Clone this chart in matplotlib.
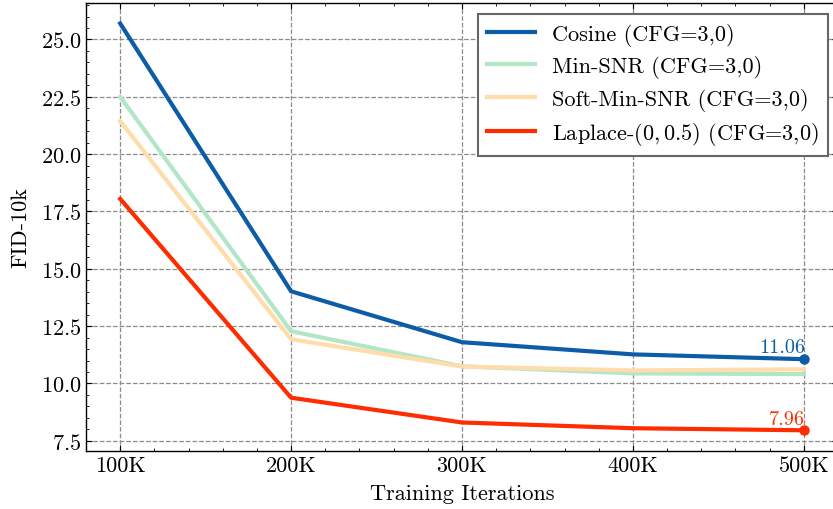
import matplotlib
matplotlib.use("Agg")
import matplotlib.pyplot as plt
from matplotlib.ticker import MultipleLocator

iterations = [100, 200, 300, 400, 500]  # thousands
tick_labels = ["100K", "200K", "300K", "400K", "500K"]
cosine = [25.70, 14.02, 11.80, 11.27, 11.06]
min_snr = [22.50, 12.28, 10.75, 10.44, 10.41]
soft_min_snr = [21.44, 11.93, 10.74, 10.57, 10.62]
laplace = [18.05, 9.38, 8.30, 8.05, 7.96]

plt.rcParams.update({
    "font.family": "serif",
    "font.serif": ["cmr10"],
    "mathtext.fontset": "cm",
    "axes.formatter.use_mathtext": True,
    "font.size": 16,
    "axes.linewidth": 1.0,
    "xtick.direction": "in",
    "ytick.direction": "in",
    "xtick.top": True,
    "ytick.right": True,
    "xtick.major.size": 4.5,
    "ytick.major.size": 4.5,
    "xtick.minor.size": 2.3,
    "ytick.minor.size": 2.3,
    "xtick.minor.visible": True,
    "ytick.minor.visible": True,
})

fig = plt.figure(figsize=(8.33, 5.10), dpi=100)
ax = fig.add_axes([86/833, 1-451.7/510, (838-86)/833, (451.7-4)/510])

c_cos = "#0C5DA5"
c_min = "#b3e6c6"
c_soft = "#ffdcab"
c_lap = "#FF2C00"
lw = 3.0

ax.plot(iterations, cosine, color=c_cos, lw=lw, label="Cosine (CFG=3,0)", zorder=5)
ax.plot(iterations, min_snr, color=c_min, lw=lw, label="Min-SNR (CFG=3,0)", zorder=3)
ax.plot(iterations, soft_min_snr, color=c_soft, lw=lw, label="Soft-Min-SNR (CFG=3,0)", zorder=4)
ax.plot(iterations, laplace, color=c_lap, lw=lw, label=r"Laplace-$(0, 0.5)$ (CFG=3,0)", zorder=5)

ax.plot(iterations[-1:], cosine[-1:], "o", color=c_cos, ms=6.5, zorder=6)
ax.plot(iterations[-1:], laplace[-1:], "o", color=c_lap, ms=6.5, zorder=6)
ax.annotate(f"{cosine[-1]:.2f}", (iterations[-1], cosine[-1]), xytext=(1, 2),
            textcoords="offset points", ha="right", va="bottom", color=c_cos, fontsize=14.5)
ax.annotate(f"{laplace[-1]:.2f}", (iterations[-1], laplace[-1]), xytext=(1, 2),
            textcoords="offset points", ha="right", va="bottom", color=c_lap, fontsize=14.5)

ax.set_xticks(iterations)
ax.set_xticklabels(tick_labels)
ax.xaxis.set_minor_locator(MultipleLocator(20))
ax.yaxis.set_major_locator(MultipleLocator(2.5))
ax.yaxis.set_minor_locator(MultipleLocator(0.5))
ax.set_ylim(7.07, 26.59)
ax.set_xlim(80, 520)
ax.grid(True, which="major", ls="--", color="#8c8c8c", lw=0.9)

ax.set_xlabel("Training Iterations", labelpad=6)
ax.set_ylabel("FID-10k", labelpad=7.5)

leg = ax.legend(loc="upper right", bbox_to_anchor=(828/833, 1-15/510),
                bbox_transform=fig.transFigure, borderaxespad=0,
                fancybox=False, framealpha=1, edgecolor="#666666",
                handlelength=2.15, labelspacing=0.42)
leg.get_frame().set_linewidth(1.5)
leg.set_zorder(10)

fig.savefig("out.png", dpi=100)
